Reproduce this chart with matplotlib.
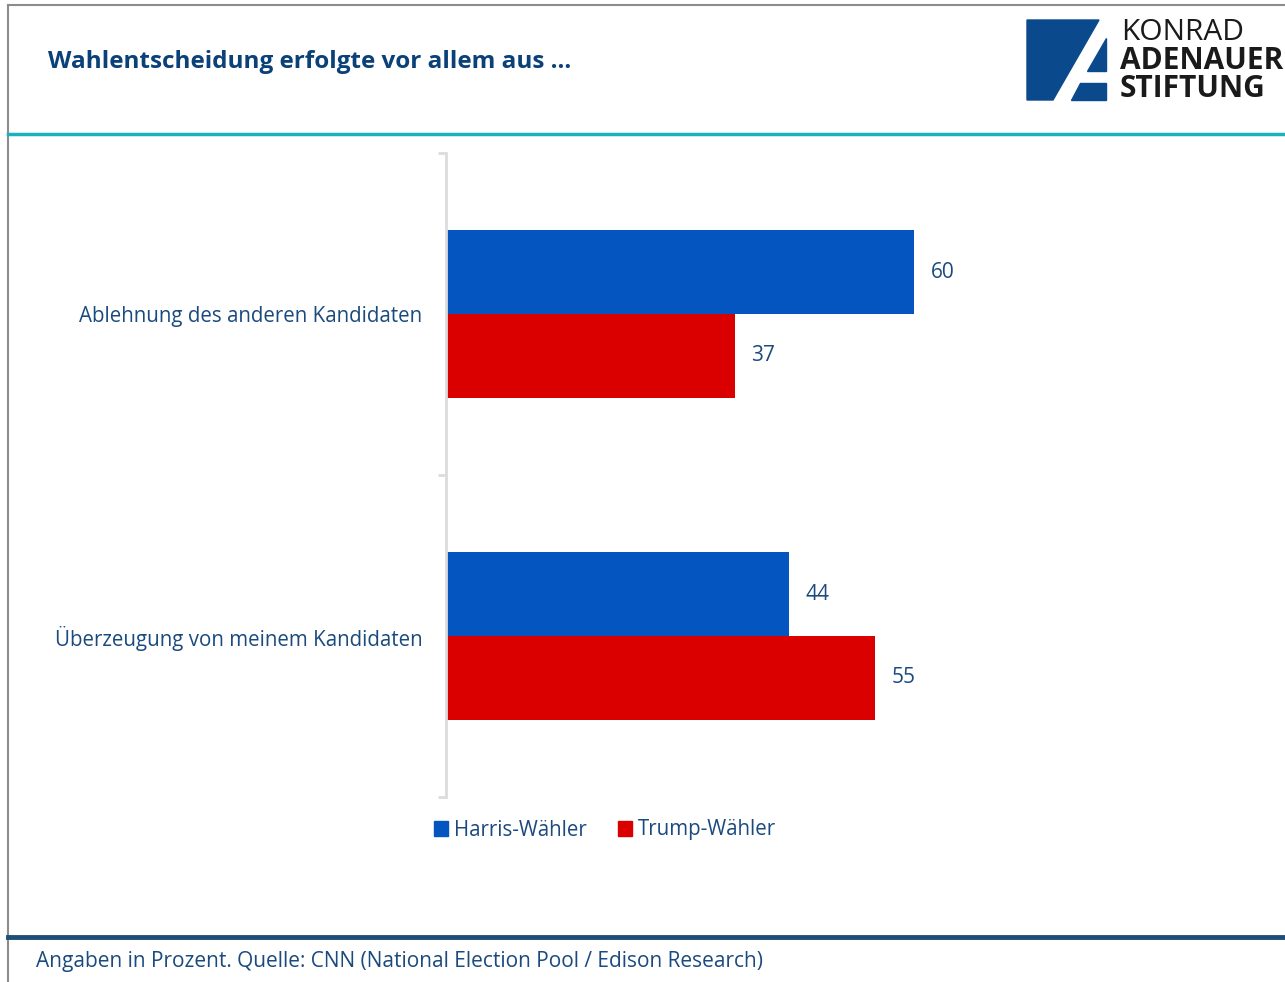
import matplotlib.pyplot as plt
from matplotlib.lines import Line2D
from matplotlib.patches import Polygon, Patch

plt.rcParams['font.family'] = ['Open Sans', 'DejaVu Sans']

# data
categories = ["Ablehnung des anderen Kandidaten", "Überzeugung von meinem Kandidaten"]
harris = [60, 44]
trump = [37, 55]
series_names = ["Harris-Wähler", "Trump-Wähler"]

W, H = 1285, 982
blue = "#0455bf"
red = "#da0000"
txt = "#1a4a7e"

fig = plt.figure(figsize=(W / 100, H / 100), dpi=100)


def fx(px):
    return px / W


def fy(py):
    return 1 - py / H


# frame lines
fig.add_artist(Line2D([fx(8), 1], [fy(5), fy(5)], color="#8c8c8c", lw=1.5))
fig.add_artist(Line2D([fx(8), fx(8)], [fy(5), 0], color="#8c8c8c", lw=1.5))
fig.add_artist(Line2D([fx(8), 1], [fy(134), fy(134)], color="#1ab3bd", lw=2.5))
fig.add_artist(Line2D([fx(8), 1], [fy(937), fy(937)], color="#1f4e79", lw=3.5))

# title and footer
fig.text(fx(48), fy(62), "Wahlentscheidung erfolgte vor allem aus …", fontsize=17.5,
         fontweight="bold", color="#0b4179", va="center", ha="left")
fig.text(fx(36), fy(961), "Angaben in Prozent. Quelle: CNN (National Election Pool / Edison Research)",
         fontsize=15, color=txt, va="center", ha="left")

# logo
logo = "#0a4a8c"
fig.add_artist(Polygon([(fx(1027), fy(20)), (fx(1099), fy(20)), (fx(1053), fy(100)), (fx(1027), fy(100))],
                       closed=True, color=logo, transform=fig.transFigure))
fig.add_artist(Polygon([(fx(1106), fy(38)), (fx(1106), fy(71)), (fx(1087), fy(71))],
                       closed=True, color=logo, transform=fig.transFigure))
fig.add_artist(Polygon([(fx(1080), fy(83)), (fx(1106), fy(83)), (fx(1106), fy(100)), (fx(1071), fy(100))],
                       closed=True, color=logo, transform=fig.transFigure))
fig.text(fx(1121), fy(32), "KONRAD", fontsize=21.5, color="#1a1a1a", va="center", ha="left")
fig.text(fx(1120), fy(61), "ADENAUER", fontsize=21.5, fontweight="bold", color="#1a1a1a", va="center", ha="left")
fig.text(fx(1120), fy(89), "STIFTUNG", fontsize=21.5, fontweight="bold", color="#1a1a1a", va="center", ha="left")

# chart
ax = fig.add_axes([fx(446), fy(797), fx(780), (797 - 153) / H])
h = 0.26
pos = list(range(len(categories)))
b1 = ax.barh([p - h / 2 for p in pos], harris, height=h, color=blue)
b2 = ax.barh([p + h / 2 for p in pos], trump, height=h, color=red)
for bars, vals in ((b1, harris), (b2, trump)):
    for b, v in zip(bars, vals):
        ax.annotate(str(v), (v, b.get_y() + b.get_height() / 2), xytext=(12, 0),
                    textcoords="offset points", ha="left", va="center", fontsize=15, color=txt)

ax.set_xlim(0, 100)
ax.set_ylim(1.5, -0.5)
ax.set_yticks(pos)
ax.set_yticklabels(categories, fontsize=14.8, color=txt)
ax.tick_params(axis="y", which="major", length=0, pad=17)
ax.set_yticks([-0.5, 0.5, 1.5], minor=True)
ax.tick_params(axis="y", which="minor", length=6, width=2, color="#dcdcdc")
ax.xaxis.set_visible(False)
for s in ("top", "right", "bottom"):
    ax.spines[s].set_visible(False)
ax.spines["left"].set_color("#dcdcdc")
ax.spines["left"].set_linewidth(2)

handles = [Patch(color=blue), Patch(color=red)]
leg = fig.legend(handles, series_names, loc="center", bbox_to_anchor=(fx(605), fy(830)), ncol=2,
                 frameon=False, fontsize=14.8, handlelength=0.7, handleheight=0.7,
                 handletextpad=0.3, columnspacing=1.5)
for t in leg.get_texts():
    t.set_color(txt)

fig.savefig("out.png", dpi=100)
